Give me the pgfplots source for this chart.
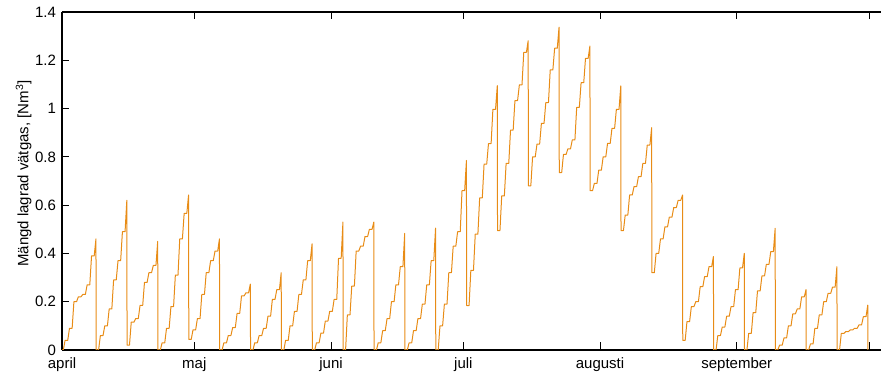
\documentclass[border=0pt]{standalone}
\usepackage{fontspec}
\setmainfont{Liberation Sans}
\usepackage{pgfplots}
\pgfplotsset{compat=1.18}
\definecolor{h2}{RGB}{232,140,22}
\begin{document}
\begin{tikzpicture}
\begin{axis}[
  scale only axis, width=819pt, height=338pt,
  xmin=0, xmax=185.7, ymin=0, ymax=1.4,
  axis x line=box, axis y line=left,
  axis line style={-, line width=1.2pt, black},
  every outer x axis line/.append style={-},
  every outer y axis line/.append style={-},
  tick align=inside,
  major tick length=7.5pt,
  tick style={black, line width=0.9pt},
  xtick={0,30,61,91,122,153,183},
  xticklabels={april,maj,juni,juli,augusti,september,{}},
  ytick={0,0.2,0.4,0.6,0.8,1,1.2,1.4},
  yticklabels={0,0.2,0.4,0.6,0.8,1,1.2,1.4},
  /pgf/number format/assume math mode=true,
  tick label style={font=\fontsize{15}{18}\selectfont},
  xticklabel style={text height=11pt, text depth=3pt, inner sep=1pt, yshift=-6pt},
  yticklabel style={inner ysep=0pt, xshift=-2.5pt},
  ylabel={Mängd lagrad vätgas, [Nm\textsuperscript{3}]},
  ylabel style={font=\fontsize{15}{18}\selectfont, at={(axis description cs:-0.033,0.522)}, anchor=south},
]
\addplot[h2, line width=1pt, line join=round] coordinates {
(0,0)
(0.3,0) (0.7,0.04) (1.3,0.04) (1.7,0.09) (2.3,0.09) (2.7,0.20) (3.3,0.20) (3.7,0.22)
(4.3,0.22) (4.7,0.23) (5.3,0.23) (5.7,0.27) (6.3,0.27) (6.7,0.39) (7.3,0.39) (7.7,0.46)
(7.75,0)
(8.3,0) (8.7,0.06) (9.3,0.06) (9.7,0.10) (10.3,0.10) (10.7,0.17) (11.3,0.17) (11.7,0.29)
(12.3,0.29) (12.7,0.37) (13.3,0.37) (13.7,0.49) (14.3,0.49) (14.7,0.62)
(14.75,0.02)
(15.3,0.02) (15.7,0.115) (16.3,0.115) (16.7,0.13) (17.3,0.13) (17.7,0.185) (18.3,0.185) (18.7,0.28)
(19.3,0.28) (19.7,0.32) (20.3,0.32) (20.7,0.35) (21.3,0.35) (21.7,0.45)
(21.75,0)
(22.3,0) (22.7,0.03) (23.3,0.03) (23.7,0.09) (24.3,0.09) (24.7,0.18) (25.3,0.18) (25.7,0.31)
(26.3,0.31) (26.7,0.46) (27.3,0.46) (27.7,0.566) (28.3,0.566) (28.7,0.642)
(28.75,0.044)
(29.3,0.044) (29.7,0.083) (30.3,0.083) (30.7,0.13) (31.3,0.13) (31.7,0.23) (32.3,0.23) (32.7,0.32)
(33.3,0.32) (33.7,0.37) (34.3,0.37) (34.7,0.41) (35.3,0.41) (35.7,0.46)
(35.75,0)
(36.3,0) (36.7,0.03) (37.3,0.03) (37.7,0.06) (38.3,0.06) (38.7,0.093) (39.3,0.093) (39.7,0.152)
(40.3,0.152) (40.7,0.224) (41.3,0.224) (41.7,0.237) (42.3,0.237) (42.7,0.273)
(42.75,0)
(43.3,0) (43.7,0.03) (44.3,0.03) (44.7,0.06) (45.3,0.06) (45.7,0.09) (46.3,0.09) (46.7,0.14)
(47.3,0.14) (47.7,0.21) (48.3,0.21) (48.7,0.25) (49.3,0.25) (49.7,0.32)
(49.75,0)
(50.3,0) (50.7,0.04) (51.3,0.04) (51.7,0.10) (52.3,0.10) (52.7,0.16) (53.3,0.16) (53.7,0.23)
(54.3,0.23) (54.7,0.29) (55.3,0.29) (55.7,0.37) (56.3,0.37) (56.7,0.44)
(56.75,0)
(57.3,0) (57.7,0.03) (58.3,0.03) (58.7,0.07) (59.3,0.07) (59.7,0.12) (60.3,0.12) (60.7,0.16)
(61.3,0.16) (61.7,0.21) (62.3,0.21) (62.7,0.38) (63.3,0.38) (63.7,0.53)
(63.75,0)
(64.3,0) (64.7,0.145) (65.3,0.145) (65.7,0.265) (66.3,0.265) (66.7,0.41) (67.3,0.41) (67.7,0.43)
(68.3,0.43) (68.7,0.47) (69.3,0.47) (69.7,0.50) (70.3,0.50) (70.7,0.53)
(70.75,0)
(71.3,0) (71.7,0.03) (72.3,0.03) (72.7,0.08) (73.3,0.08) (73.7,0.13) (74.3,0.13) (74.7,0.20)
(75.3,0.20) (75.7,0.27) (76.3,0.27) (76.7,0.345) (77.3,0.345) (77.7,0.483)
(77.75,0)
(78.3,0) (78.7,0.03) (79.3,0.03) (79.7,0.08) (80.3,0.08) (80.7,0.13) (81.3,0.13) (81.7,0.19)
(82.3,0.19) (82.7,0.27) (83.3,0.27) (83.7,0.37) (84.3,0.37) (84.7,0.505)
(84.75,0)
(85.3,0) (85.7,0.10) (86.3,0.10) (86.7,0.19) (87.3,0.19) (87.7,0.32) (88.3,0.32) (88.7,0.43)
(89.3,0.43) (89.7,0.49) (90.3,0.49) (90.7,0.66) (91.3,0.66) (91.7,0.785)
(91.75,0.184)
(92.3,0.184) (92.7,0.33) (93.3,0.33) (93.7,0.48) (94.3,0.48) (94.7,0.63) (95.3,0.63) (95.7,0.77)
(96.3,0.77) (96.7,0.855) (97.3,0.855) (97.7,0.997) (98.3,0.997) (98.7,1.095)
(98.75,0.494)
(99.3,0.494) (99.7,0.638) (100.3,0.638) (100.7,0.773) (101.3,0.773) (101.7,0.911) (102.3,0.911) (102.7,1.033)
(103.3,1.033) (103.7,1.098) (104.3,1.098) (104.7,1.233) (105.3,1.233) (105.7,1.281)
(105.75,0.68)
(106.3,0.68) (106.7,0.80) (107.3,0.80) (107.7,0.853) (108.3,0.853) (108.7,0.939) (109.3,0.939) (109.7,1.025)
(110.3,1.025) (110.7,1.16) (111.3,1.16) (111.7,1.25) (112.3,1.25) (112.7,1.337)
(112.75,0.735)
(113.3,0.735) (113.7,0.81) (114.3,0.81) (114.7,0.833) (115.3,0.833) (115.7,0.87) (116.3,0.87) (116.7,1.005)
(117.3,1.005) (117.7,1.107) (118.3,1.107) (118.7,1.208) (119.3,1.208) (119.7,1.259)
(119.75,0.66)
(120.3,0.66) (120.7,0.69) (121.3,0.69) (121.7,0.745) (122.3,0.745) (122.7,0.80) (123.3,0.80) (123.7,0.856)
(124.3,0.856) (124.7,0.918) (125.3,0.918) (125.7,0.997) (126.3,0.997) (126.7,1.094)
(126.75,0.494)
(127.3,0.494) (127.7,0.559) (128.3,0.559) (128.7,0.642) (129.3,0.642) (129.7,0.677) (130.3,0.677) (130.7,0.718)
(131.3,0.718) (131.7,0.773) (132.3,0.773) (132.7,0.849) (133.3,0.849) (133.7,0.921)
(133.75,0.32)
(134.3,0.32) (134.7,0.40) (135.3,0.40) (135.7,0.46) (136.3,0.46) (136.7,0.51) (137.3,0.51) (137.7,0.55)
(138.3,0.55) (138.7,0.59) (139.3,0.59) (139.7,0.62) (140.3,0.62) (140.7,0.642)
(140.75,0.04)
(141.3,0.04) (141.7,0.117) (142.3,0.117) (142.7,0.18) (143.3,0.18) (143.7,0.20) (144.3,0.20) (144.7,0.262)
(145.3,0.262) (145.7,0.304) (146.3,0.304) (146.7,0.345) (147.3,0.345) (147.7,0.387)
(147.75,0)
(148.3,0) (148.7,0.06) (149.3,0.06) (149.7,0.095) (150.3,0.095) (150.7,0.14) (151.3,0.14) (151.7,0.18)
(152.3,0.18) (152.7,0.25) (153.3,0.25) (153.7,0.34) (154.3,0.34) (154.7,0.40)
(154.75,0)
(155.3,0) (155.7,0.069) (156.3,0.069) (156.7,0.155) (157.3,0.155) (157.7,0.245) (158.3,0.245) (158.7,0.307)
(159.3,0.307) (159.7,0.355) (160.3,0.355) (160.7,0.407) (161.3,0.407) (161.7,0.504)
(161.75,0)
(162.3,0) (162.7,0.02) (163.3,0.02) (163.7,0.05) (164.3,0.05) (164.7,0.10) (165.3,0.10) (165.7,0.15)
(166.3,0.15) (166.7,0.17) (167.3,0.17) (167.7,0.22) (168.3,0.22) (168.7,0.25)
(168.75,0)
(169.3,0) (169.7,0.025) (170.3,0.025) (170.7,0.09) (171.3,0.09) (171.7,0.145) (172.3,0.145) (172.7,0.20)
(173.3,0.20) (173.7,0.235) (174.3,0.235) (174.7,0.26) (175.3,0.26) (175.7,0.345)
(175.75,0)
(176.3,0) (176.7,0.069) (177.3,0.069) (177.7,0.076) (178.3,0.076) (178.7,0.083) (179.3,0.083) (179.7,0.09)
(180.3,0.09) (180.7,0.104) (181.3,0.104) (181.7,0.138) (182.3,0.138) (182.7,0.186)
(182.75,0)
};
\coordinate (sw) at (rel axis cs:0,0);
\coordinate (ne) at (rel axis cs:1,1);
\end{axis}
\pgfresetboundingbox
\path ([xshift=-62pt,yshift=-26pt]sw) rectangle ([yshift=12pt]ne);
\end{tikzpicture}
\end{document}
